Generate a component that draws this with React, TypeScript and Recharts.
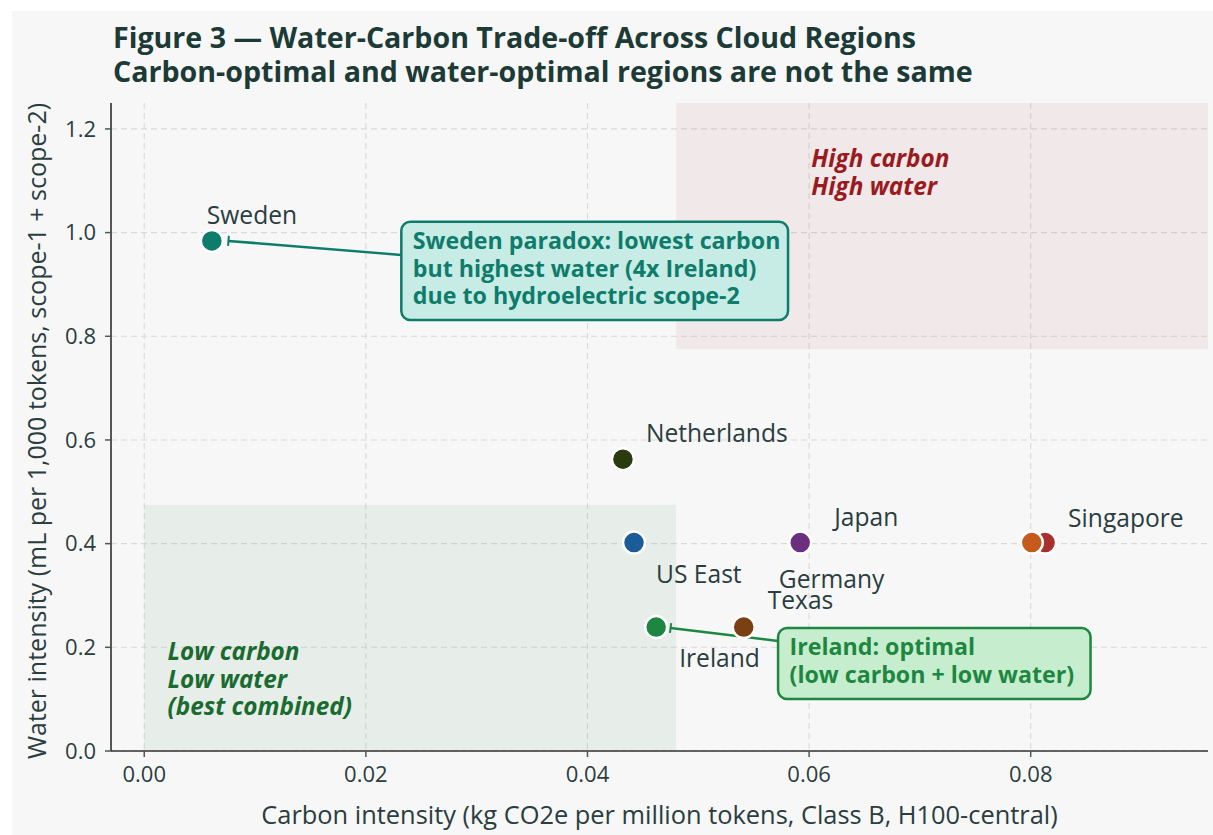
import React from 'react';
import {
  ScatterChart,
  Scatter,
  XAxis,
  YAxis,
  CartesianGrid,
  ReferenceArea,
  ReferenceLine,
  ReferenceDot,
} from 'recharts';

// ---------- data ----------
const regions = ['Sweden', 'Netherlands', 'US East', 'Ireland', 'Texas', 'Japan', 'Singapore', 'Germany'];
const carbonIntensity = [0.0061, 0.0432, 0.0442, 0.0462, 0.0541, 0.0592, 0.0813, 0.0801];
const waterIntensity = [0.984, 0.563, 0.402, 0.239, 0.239, 0.402, 0.402, 0.402];
const xTicks = [0, 0.02, 0.04, 0.06, 0.08];
const yTicks = [0, 0.2, 0.4, 0.6, 0.8, 1.0, 1.2];
const titleLines = [
  'Figure 3 — Water-Carbon Trade-off Across Cloud Regions',
  'Carbon-optimal and water-optimal regions are not the same',
];
const xLabel = 'Carbon intensity (kg CO2e per million tokens, Class B, H100-central)';
const yLabel = 'Water intensity (mL per 1,000 tokens, scope-1 + scope-2)';
const swedenNote = ['Sweden paradox: lowest carbon', 'but highest water (4x Ireland)', 'due to hydroelectric scope-2'];
const irelandNote = ['Ireland: optimal', '(low carbon + low water)'];
const highZone = ['High carbon', 'High water'];
const lowZone = ['Low carbon', 'Low water', '(best combined)'];

// ---------- styling ----------
const FONT = '"Open Sans", "Noto Sans", sans-serif';
const TEXT = '#2a3d3f';
const BG = '#f7f7f7';
const COLORS: Record<string, string> = {
  Sweden: '#0e7c6b',
  Netherlands: '#2c3a10',
  'US East': '#1a5b98',
  Ireland: '#1d8742',
  Texas: '#7a3f12',
  Japan: '#6b2f7e',
  Singapore: '#a8302f',
  Germany: '#c45a1b',
};
const LABEL_OFFSET: Record<string, [number, number]> = {
  Sweden: [-5, -17],
  Netherlands: [23, -17],
  'US East': [22, 40],
  Ireland: [23, 40],
  Texas: [24, -18],
  Japan: [34, -17],
  Germany: [-253, 45],
  Singapore: [23, -16],
};

const data = regions.map((r, i) => ({ region: r, carbon: carbonIntensity[i], water: waterIntensity[i] }));

const PointShape = (props: any) => {
  const { cx, cy, payload } = props;
  const c = COLORS[payload.region];
  const [dx, dy] = LABEL_OFFSET[payload.region];
  return (
    <g>
      <circle cx={cx} cy={cy} r={11} fill={c} stroke="#ffffff" strokeWidth={2.5} />
      <text x={cx + dx} y={cy + dy} fontFamily={FONT} fontSize={24.6} fill={TEXT}>
        {payload.region}
      </text>
    </g>
  );
};

const makeBox = (lines: string[], stroke: string, fill: string, color: string, first: number, gap: number) =>
  (p: any) => {
    const { x, y, width, height } = p;
    return (
      <g>
        <rect x={x} y={y} width={width} height={height} rx={9} ry={9} fill={fill} stroke={stroke} strokeWidth={2.5} />
        {lines.map((l, i) => (
          <text key={i} x={x + 11.5} y={y + first + i * gap} fontFamily={FONT} fontWeight={700} fontSize={23.2} fill={color}>
            {l}
          </text>
        ))}
      </g>
    );
  };

const makeConnector = (color: string) => (p: any) => {
  const { x1, y1, x2, y2 } = p;
  if (x1 == null) return <g />;
  const ang = Math.atan2(y2 - y1, x2 - x1);
  const nx = -Math.sin(ang) * 5;
  const ny = Math.cos(ang) * 5;
  return (
    <g>
      <line x1={x1} y1={y1} x2={x2} y2={y2} stroke={color} strokeWidth={2.5} />
      <line x1={x1 + nx} y1={y1 + ny} x2={x1 - nx} y2={y1 - ny} stroke={color} strokeWidth={2} />
    </g>
  );
};

const makeZoneText = (lines: string[], color: string) => (p: any) => {
  const { cx, cy } = p;
  return (
    <g>
      {lines.map((l, i) => (
        <text key={i} x={cx} y={cy + i * 27.7} fontFamily={FONT} fontWeight={700} fontStyle="italic" fontSize={24.3} fill={color}>
          {l}
        </text>
      ))}
    </g>
  );
};

const YLabelContent = (p: any) => {
  const vb = p.viewBox || {};
  const cx = 34;
  const cy = vb.y + vb.height / 2 + 4;
  return (
    <text x={cx} y={cy} transform={`rotate(-90 ${cx} ${cy})`} textAnchor="middle" fontFamily={FONT} fontSize={25} fill={TEXT}>
      {yLabel}
    </text>
  );
};

const XLabelContent = (p: any) => {
  const vb = p.viewBox || {};
  return (
    <text x={vb.x + vb.width / 2} y={813} textAnchor="middle" fontFamily={FONT} fontSize={25.4} fill={TEXT}>
      {xLabel}
    </text>
  );
};

export default function App() {
  return (
    <div style={{ position: 'absolute', left: 12, top: 11, width: 1201, height: 824, background: BG }}>
      <svg width={1201} height={90} style={{ position: 'absolute', left: 0, top: 0 }}>
        {titleLines.map((t, i) => (
          <text key={i} x={101} y={37 + i * 34} fontFamily={FONT} fontWeight={700} fontSize={28.6} fill="#1c3a36">
            {t}
          </text>
        ))}
      </svg>
      <div style={{ position: 'absolute', left: 0, top: 0 }}>
        <ScatterChart width={1201} height={824} margin={{ top: 92, right: 5, bottom: 0, left: 0 }}>
          <CartesianGrid stroke="#d9d9d9" strokeDasharray="6 4" strokeWidth={1.1} verticalValues={xTicks} horizontalValues={yTicks} />
          <ReferenceArea x1={0.048} x2={0.096} y1={0.775} y2={1.25} fill="#b2303f" fillOpacity={0.075} stroke="none" />
          <ReferenceArea x1={0} x2={0.048} y1={0} y2={0.475} fill="#2e7d4f" fillOpacity={0.08} stroke="none" />
          <XAxis
            type="number"
            dataKey="carbon"
            domain={[-0.003, 0.096]}
            ticks={xTicks}
            tickFormatter={(v: number) => v.toFixed(2)}
            allowDataOverflow
            height={84}
            tickSize={6}
            tickMargin={9}
            stroke="#2a2a2a"
            axisLine={{ stroke: '#333333', strokeWidth: 1.5 }}
            tickLine={{ stroke: '#4a5a5a', strokeWidth: 1.5 }}
            tick={{ fill: TEXT, fontFamily: FONT, fontSize: 22 }}
            label={<XLabelContent />}
          />
          <YAxis
            type="number"
            dataKey="water"
            domain={[0, 1.25]}
            ticks={yTicks}
            tickFormatter={(v: number) => v.toFixed(1)}
            allowDataOverflow
            width={99}
            tickSize={6}
            tickMargin={9}
            axisLine={{ stroke: '#222222', strokeWidth: 1.5 }}
            tickLine={{ stroke: '#4a5a5a', strokeWidth: 1.5 }}
            tick={{ fill: TEXT, fontFamily: FONT, fontSize: 22 }}
            label={<YLabelContent />}
          />
          <ReferenceLine
            segment={[{ x: 0.0076, y: 0.984 }, { x: 0.0232, y: 0.957 }]}
            stroke={COLORS.Sweden}
            shape={makeConnector(COLORS.Sweden)}
          />
          <ReferenceLine
            segment={[{ x: 0.0475, y: 0.2373 }, { x: 0.0572, y: 0.2122 }]}
            stroke={COLORS.Ireland}
            shape={makeConnector(COLORS.Ireland)}
          />
          <Scatter data={data} isAnimationActive={false} shape={<PointShape />} />
          <ReferenceArea
            x1={0.0232}
            x2={0.0581}
            y1={0.8314}
            y2={1.021}
            shape={makeBox(swedenNote, '#0e7c6b', '#c7ebe5', '#0e7c6b', 27.6, 27.5)}
          />
          <ReferenceArea
            x1={0.0572}
            x2={0.0854}
            y1={0.1003}
            y2={0.2373}
            shape={makeBox(irelandNote, '#1d8742', '#c6edcd', '#1d8742', 27, 28)}
          />
          <ReferenceDot x={0.0602} y={1.1265} r={0} shape={makeZoneText(highZone, '#9a1b1f')} />
          <ReferenceDot x={0.0021} y={0.1755} r={0} shape={makeZoneText(lowZone, '#196b30')} />
        </ScatterChart>
      </div>
    </div>
  );
}
